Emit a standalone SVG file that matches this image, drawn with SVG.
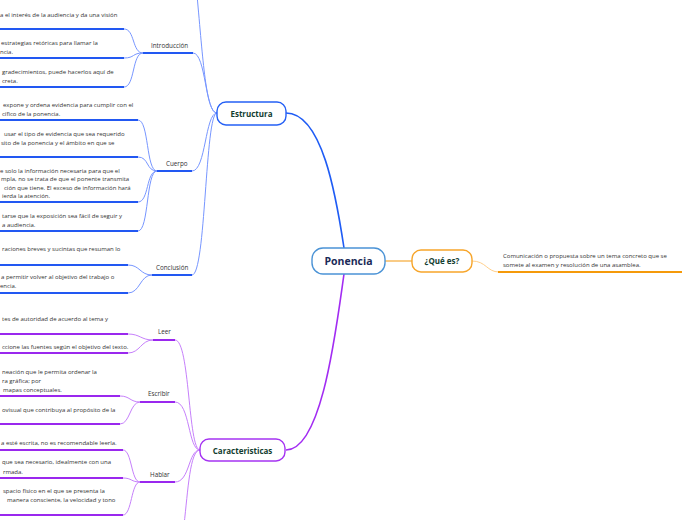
<svg xmlns="http://www.w3.org/2000/svg" width="696" height="520" viewBox="0 0 696 520">
<style>
text{font-family:"Open Sans","Noto Sans","DejaVu Sans",sans-serif}
.leaf{font-size:6px;fill:#333}
.sub{font-size:6.3px;fill:#333}
.main{font-size:8px;font-weight:bold;fill:#123d30;text-anchor:middle}
.bc{fill:none;stroke:#7796ff;stroke-width:1}
.bu{fill:none;stroke:#2258f2;stroke-width:2}
.bm{fill:none;stroke:#1f5cf5;stroke-width:1.6}
.pc{fill:none;stroke:#c680fb;stroke-width:1}
.pu{fill:none;stroke:#9a28ee;stroke-width:2}
.pm{fill:none;stroke:#a22cf2;stroke-width:1.6}
</style>
<rect width="696" height="520" fill="#fff"/>
<g id="connectors">
<path class="bm" d="M344,248 C336,195 322,113 286,113"/>
<path class="pm" d="M344,274 C336,330 322,450 286,450"/>
<path d="M385,261 L412,261" fill="none" stroke="#f7b552" stroke-width="1.4"/>
<path d="M472,261 C486,261 487,272 499,272" fill="none" stroke="#ffcf8a" stroke-width="1"/>
<path d="M498,272 L682,272" fill="none" stroke="#f59a0a" stroke-width="2"/>
<path class="bc" d="M217,113 C206,113 203,60 197,-5"/>
<path class="bc" d="M217,113 C205,113 206,53 193,53"/>
<path class="bc" d="M217,113 C205,113 206,171 192,171"/>
<path class="bc" d="M217,113 C205,113 206,275 192,275"/>
<path class="bu" d="M143,53 L193,53"/>
<path class="bu" d="M157,171 L192,171"/>
<path class="bu" d="M152,275 L192,275"/>
<path class="bc" d="M143,53 C132,53 135,29 124,29"/>
<path class="bc" d="M143,53 C132,53 135,58 124,58"/>
<path class="bc" d="M143,53 C132,53 135,87 124,87"/>
<path class="bc" d="M157,171 C146,171 149,120 138,120"/>
<path class="bc" d="M157,171 C146,171 149,157 138,157"/>
<path class="bc" d="M157,171 C146,171 149,202 138,202"/>
<path class="bc" d="M157,171 C146,171 149,231 138,231"/>
<path class="bc" d="M152,275 C140,275 140,265 128,265"/>
<path class="bc" d="M152,275 C140,275 140,293 128,293"/>
<path class="bu" d="M0,29 L124,29"/>
<path class="bu" d="M0,58 L124,58"/>
<path class="bu" d="M0,87 L124,87"/>
<path class="bu" d="M0,120 L138,120"/>
<path class="bu" d="M0,157 L138,157"/>
<path class="bu" d="M0,202 L138,202"/>
<path class="bu" d="M0,231 L138,231"/>
<path class="bu" d="M0,265 L128,265"/>
<path class="bu" d="M0,293 L128,293"/>
<path class="pc" d="M200,450 C188,450 190,340 175,340"/>
<path class="pc" d="M200,450 C188,450 190,402 175,402"/>
<path class="pc" d="M200,450 C188,450 190,482 175,482"/>
<path class="pc" d="M200,450 C190,450 188,490 184,525"/>
<path class="pu" d="M153,340 L175,340"/>
<path class="pu" d="M140,402 L175,402"/>
<path class="pu" d="M140,482 L175,482"/>
<path class="pc" d="M153,340 C141,340 140,334 128,334"/>
<path class="pc" d="M153,340 C141,340 140,353 128,353"/>
<path class="pc" d="M140,402 C130,402 130,396 120,396"/>
<path class="pc" d="M140,402 C130,402 130,424 120,424"/>
<path class="pc" d="M140,482 C131,482 132,450 123,450"/>
<path class="pc" d="M140,482 C131,482 132,478 123,478"/>
<path class="pc" d="M140,482 C131,482 132,515 123,515"/>
<path class="pu" d="M0,334 L128,334"/>
<path class="pu" d="M0,353 L128,353"/>
<path class="pu" d="M0,396 L120,396"/>
<path class="pu" d="M0,424 L120,424"/>
<path class="pu" d="M0,450 L123,450"/>
<path class="pu" d="M0,478 L123,478"/>
<path class="pu" d="M0,515 L123,515"/>
</g>
<g id="ponencia">
<rect x="312" y="248" width="73" height="26" rx="11" fill="#fff" stroke="#4b93d6" stroke-width="1.4"/>
<text x="348.5" y="265" style="font-size:10.5px;font-weight:bold;fill:#1b2a58;text-anchor:middle">Ponencia</text>
</g>
<g id="que-es">
<rect x="412" y="250" width="60" height="22" rx="9" fill="#fff" stroke="#f7a52a" stroke-width="1.4"/>
<text class="main" x="442" y="264">¿Qué es?</text>
</g>
<g id="que-es-leaf">
<text class="leaf" x="503" y="258">Comunicación o propuesta sobre un tema concreto que se</text>
<text class="leaf" x="503" y="267">somete al examen y resolución de una asamblea.</text>
</g>
<g id="estructura">
<rect x="217" y="102" width="69" height="23" rx="9" fill="#fff" stroke="#2560f5" stroke-width="1.4"/>
<text class="main" x="251.5" y="116.5">Estructura</text>
</g>
<g id="caracteristicas">
<rect x="200" y="439" width="85" height="22" rx="9" fill="#fff" stroke="#a533f2" stroke-width="1.4"/>
<text class="main" x="242.5" y="453.5">Caracteristicas</text>
</g>
<g id="introduccion"><text class="sub" x="151" y="48">Introducción</text></g>
<g id="cuerpo"><text class="sub" x="166" y="166">Cuerpo</text></g>
<g id="conclusion"><text class="sub" x="156" y="270">Conclusión</text></g>
<g id="leer"><text class="sub" x="158" y="334">Leer</text></g>
<g id="escribir"><text class="sub" x="148" y="396">Escribir</text></g>
<g id="hablar"><text class="sub" x="150" y="477">Hablar</text></g>
<g id="intro-leaves">
<text class="leaf" x="0" y="16.5">a el interés de la audiencia y da una visión</text>
<text class="leaf" x="1" y="44.5">estrategias retóricas para llamar la</text>
<text class="leaf" x="0" y="53.5">ncia.</text>
<text class="leaf" x="2" y="73.5">gradecimientos, puede hacerlos aquí de</text>
<text class="leaf" x="2" y="82.5">creta.</text>
</g>
<g id="cuerpo-leaves">
<text class="leaf" x="3" y="106.8">expone y ordena evidencia para cumplir con el</text>
<text class="leaf" x="2" y="115.5">cífico de la ponencia.</text>
<text class="leaf" x="4" y="135.5">usar el tipo de evidencia que sea requerido</text>
<text class="leaf" x="1" y="144.5">sito de la ponencia y el ámbito en que se</text>
<text class="leaf" x="0" y="172.5">e solo la información necesaria para que el</text>
<text class="leaf" x="1" y="181">mpla, no se trata de que el ponente transmita</text>
<text class="leaf" x="4" y="189.5">ción que tiene. El exceso de información hará</text>
<text class="leaf" x="2" y="197.8">ierda la atención.</text>
<text class="leaf" x="2" y="217.5">tarse que la exposición sea fácil de seguir y</text>
<text class="leaf" x="2" y="226.5">a audiencia.</text>
</g>
<g id="conclusion-leaves">
<text class="leaf" x="2" y="250.8">raciones breves y sucintas que resuman lo</text>
<text class="leaf" x="1" y="279">a permitir volver al objetivo del trabajo o</text>
<text class="leaf" x="0" y="287.8">encia.</text>
</g>
<g id="leer-leaves">
<text class="leaf" x="2" y="320.8">tes de autoridad de acuerdo al tema y</text>
<text class="leaf" x="2" y="349">ccione las fuentes según el objetivo del texto.</text>
</g>
<g id="escribir-leaves">
<text class="leaf" x="2" y="374">neación que le permita ordenar la</text>
<text class="leaf" x="2" y="382.5">ra gráfica; por</text>
<text class="leaf" x="3" y="391.8">mapas conceptuales.</text>
<text class="leaf" x="2" y="411.8">ovisual que contribuya al propósito de la</text>
</g>
<g id="hablar-leaves">
<text class="leaf" x="1" y="444.8">a esté escrita, no es recomendable leerla.</text>
<text class="leaf" x="2" y="464.2">que sea necesario, idealmente con una</text>
<text class="leaf" x="3" y="473.5">rmada.</text>
<text class="leaf" x="3" y="492.5">spacio físico en el que se presenta la</text>
<text class="leaf" x="7" y="501.5">manera consciente, la velocidad y tono</text>
</g>
</svg>
